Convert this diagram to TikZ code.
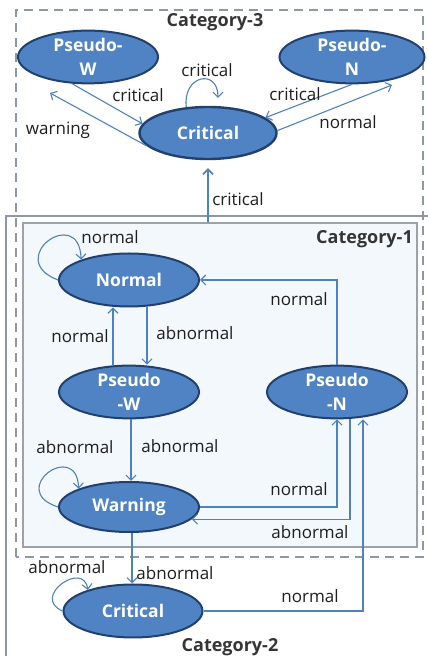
\documentclass[tikz,border=0pt]{standalone}
\usepackage{fontspec}
\setmainfont{Open Sans}
\usetikzlibrary{shapes.geometric,arrows.meta}
\definecolor{stfill}{HTML}{5083C4}
\definecolor{stborder}{HTML}{22406E}
\definecolor{edgec}{HTML}{4F81BD}
\definecolor{boxgray}{HTML}{8E98A4}
\definecolor{c1fill}{HTML}{F3F8FC}
\definecolor{txt}{HTML}{1E1E1E}
\begin{document}
\begin{tikzpicture}[x=1pt,y=1pt,
  st/.style={ellipse, draw=stborder, line width=2pt, fill=stfill, text=white,
    font=\fontsize{17.5}{24}\selectfont\bfseries, align=center, inner sep=0pt,
    minimum width=140pt, minimum height=52pt},
  lab/.style={font=\fontsize{17}{19}\selectfont, text=txt, inner sep=0pt},
  cat/.style={font=\fontsize{18}{20}\selectfont\bfseries, text=txt!90, inner sep=0pt},
  edge/.style={draw=edgec, line width=1.1pt, -{Straight Barb[length=5pt,width=10pt]}},
  plain/.style={draw=edgec, line width=1.1pt}]
\useasboundingbox (0,0) rectangle (428,656);
% Category-2 frame
\draw[boxgray, line width=1.8pt] (430,440) -- (6,440) -- (6,-4);
% Category-3 dashed frame
\draw[boxgray, line width=1.5pt, dash pattern=on 9pt off 6pt] (16,99) rectangle (423,646);
% Category-1 box
\node[draw=boxgray!90, line width=1.1pt, fill=c1fill, minimum width=394pt, minimum height=324pt, inner sep=0pt] (cat1) at (220,271) {};

% category labels
\node[cat] (t3) at (215,634) {Category-3};
\node[cat, anchor=east] (t1) at (413,417) {Category-1};
\node[cat] (t2) at (230,9) {Category-2};

% Category-3 states
\node[st] (w3) at (88,599) {Pseudo-\\W};
\node[st, minimum width=145pt] (n3) at (352,599) {Pseudo-\\N};
\node[st, minimum width=137pt, line width=2.4pt] (c3) at (208,523) {Critical};

% Category-1 states
\node[st, minimum height=53pt] (nor) at (129,376) {Normal};
\node[st] (pw) at (129,264) {Pseudo\\-W};
\node[st] (pn) at (337,264) {Pseudo\\-N};
\node[st, minimum height=50pt] (war) at (129,149) {Warning};

% Category-2 state
\node[st, minimum width=139pt, minimum height=53pt] (c2) at (133,45) {Critical};

% free arrow ends
\coordinate (wtip) at (50,563);
\coordinate (ntip) at (392,571);
\coordinate (ltip) at (218,558);

% Category-3 edges
\draw[edge] (w3.-121) -- (c3.172);
\draw[edge] (c3.192) -- (wtip);
\draw[edge] (c3.130) .. controls +(-4,32) and +(0,30) .. (ltip);
\draw[edge] (n3.south) -- (c3.15);
\draw[edge] (c3.2) -- (ntip);
\draw[edge, line width=1.8pt, shorten >=8pt] (c3.south |- cat1.north) -- (c3.south);

\node[lab] (l1) at (138,561) {critical};
\node[lab] (l2) at (58,526) {warning};
\node[lab] (l3) at (207,586) {critical};
\node[lab] (l4) at (295,562) {critical};
\node[lab] (l5) at (348,534) {normal};
\node[lab] (l6) at (238,457) {critical};

% Category-1 edges
\draw[edge] (nor.west) .. controls +(-55,21) and +(-2,56) .. (nor.157);
\draw[edge] ([xshift=18pt]nor.south) -- ([xshift=18pt]pw.north);
\draw[edge] ([xshift=-16pt]pw.north) -- ([xshift=-16pt]nor.south);
\draw[edge] (pn.north) |- (nor.east);
\draw[edge] ([xshift=2pt]pw.south) -- ([xshift=2pt]war.north);
\draw[edge] (war.west) .. controls +(-52,17) and +(-2,50) .. (war.160);
\draw[edge] (war.east) -| (pn.south);
\draw[edge] ([xshift=13pt]pn.south) |- (war.-11);

\node[lab] (l7) at (110,419) {normal};
\node[lab] (l8) at (195,323) {abnormal};
\node[lab] (l9) at (80,320) {normal};
\node[lab] (l10) at (299,357) {normal};
\node[lab] (l11) at (180,210) {abnormal};
\node[lab] (l12) at (75,209) {abnormal};
\node[lab] (l13) at (299,167) {normal};
\node[lab] (l14) at (310,124) {abnormal};

% Category-2 edges
\draw[edge] ([xshift=3pt]war.south) -- ([xshift=-1pt]c2.north);
\draw[edge] (c2.west) .. controls +(-32,14) and +(-4,30) .. (c2.155);
\draw[edge] (c2.east) -| ([xshift=26pt]pn.south);

\node[lab] (l15) at (175,83) {abnormal};
\node[lab] (l16) at (67,89) {abnormal};
\node[lab] (l17) at (310,60) {normal};
\end{tikzpicture}
\end{document}
